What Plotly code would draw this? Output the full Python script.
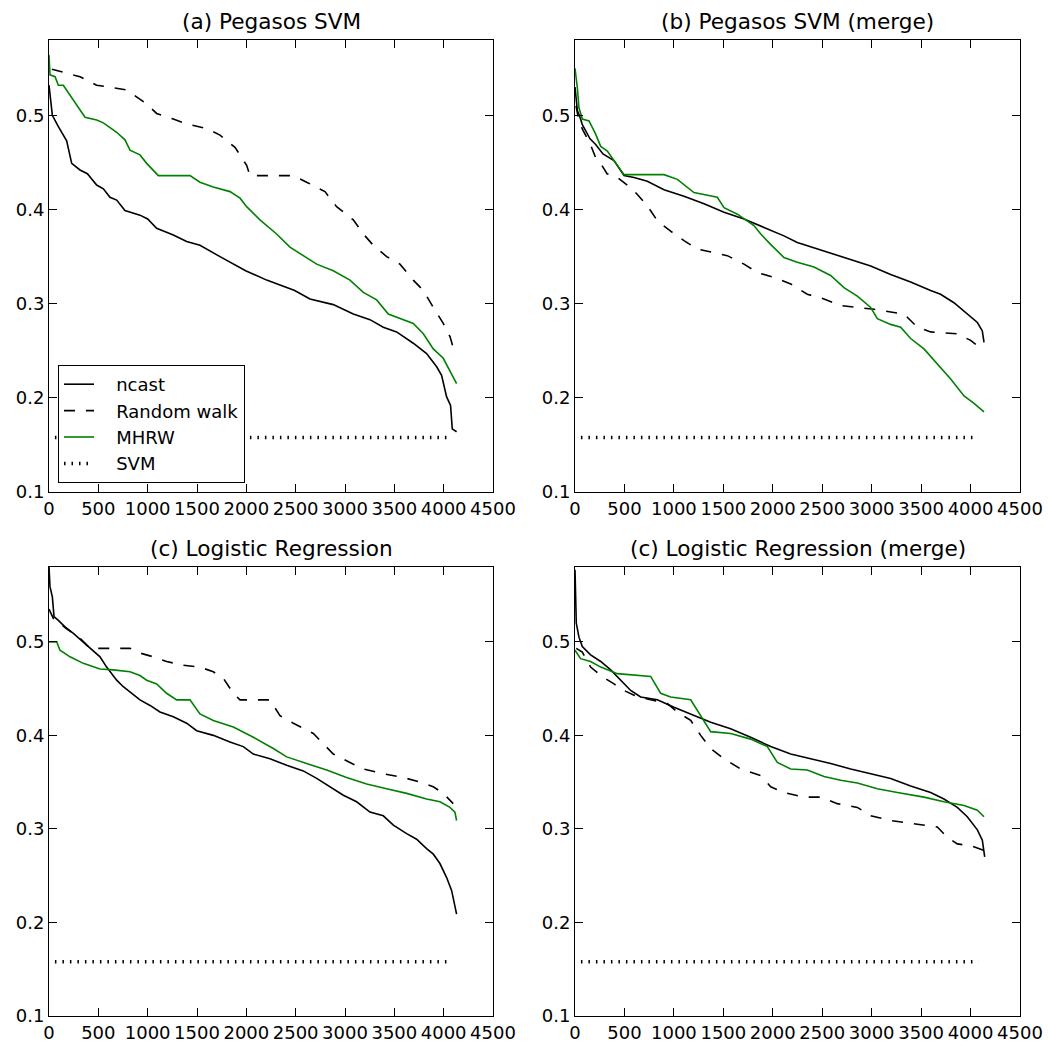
import plotly.graph_objects as go

W = H = 1048

titles = ["(a) Pegasos SVM", "(b) Pegasos SVM (merge)",
          "(c) Logistic Regression", "(c) Logistic Regression (merge)"]
series_names = ["ncast", "Random walk", "MHRW", "SVM"]
x_ticks = [0, 500, 1000, 1500, 2000, 2500, 3000, 3500, 4000, 4500]
y_ticks = [0.1, 0.2, 0.3, 0.4, 0.5]

# ---------------- panel (a) ----------------
a_ncast_x = [0, 8, 34, 95, 179, 230, 314, 389, 483, 551, 618, 686, 770, 922, 1000, 1091, 1260, 1395, 1530, 1733,
             1993, 2206, 2375, 2490, 2645, 2881, 3084, 3253, 3388, 3523, 3692, 3827, 3929, 3979, 4030, 4070, 4087, 4131]
a_ncast_y = [0.532, 0.523, 0.500, 0.488, 0.473, 0.449, 0.442, 0.438, 0.426, 0.422, 0.413, 0.410, 0.399, 0.394, 0.390,
             0.380, 0.373, 0.366, 0.362, 0.350, 0.335, 0.325, 0.318, 0.314, 0.305, 0.299, 0.289, 0.283, 0.275, 0.270,
             0.258, 0.247, 0.233, 0.224, 0.201, 0.192, 0.167, 0.164]
a_rw_x = [30, 314, 483, 787, 990, 1091, 1260, 1395, 1598, 1733, 1885, 2003, 2037, 2476, 2611, 2797, 2915, 3084, 3186,
          3287, 3422, 3557, 3692, 3794, 3895, 3996, 4064, 4114]
a_rw_y = [0.549, 0.541, 0.532, 0.527, 0.512, 0.502, 0.496, 0.491, 0.486, 0.479, 0.466, 0.447, 0.436, 0.436, 0.429,
          0.419, 0.403, 0.389, 0.374, 0.362, 0.350, 0.342, 0.325, 0.314, 0.296, 0.279, 0.265, 0.247]
a_mh_x = [0, 10, 61, 95, 145, 230, 314, 365, 483, 551, 686, 770, 821, 922, 990, 1108, 1429, 1530, 1665, 1834, 1936,
          2003, 2138, 2307, 2442, 2577, 2713, 2881, 3050, 3186, 3321, 3439, 3557, 3692, 3794, 3895, 3996, 4064, 4131]
a_mh_y = [0.564, 0.543, 0.541, 0.532, 0.532, 0.519, 0.505, 0.498, 0.495, 0.492, 0.482, 0.474, 0.463, 0.458, 0.449,
          0.436, 0.436, 0.429, 0.424, 0.419, 0.412, 0.403, 0.389, 0.374, 0.360, 0.351, 0.342, 0.335, 0.325, 0.312,
          0.304, 0.289, 0.284, 0.279, 0.268, 0.252, 0.242, 0.229, 0.215]

# ---------------- panel (b) ----------------
b_ncast_x = [0, 24, 51, 74, 152, 209, 283, 394, 496, 597, 731, 900, 1102, 1305, 1507, 1709, 1911, 2113, 2248, 2518,
             2720, 2990, 3192, 3394, 3596, 3697, 3832, 3967, 4069, 4119, 4136]
b_ncast_y = [0.530, 0.505, 0.498, 0.490, 0.475, 0.469, 0.459, 0.452, 0.436, 0.434, 0.430, 0.421, 0.414, 0.406, 0.397,
             0.390, 0.381, 0.372, 0.365, 0.356, 0.349, 0.340, 0.331, 0.323, 0.314, 0.310, 0.301, 0.289, 0.280, 0.271,
             0.259]
b_rw_x = [10, 40, 81, 152, 209, 253, 324, 428, 563, 631, 731, 833, 967, 1102, 1237, 1372, 1540, 1709, 1844, 2012,
          2181, 2349, 2518, 2687, 3024, 3327, 3462, 3596, 3866, 4001, 4136]
b_rw_y = [0.510, 0.494, 0.484, 0.470, 0.455, 0.450, 0.438, 0.434, 0.423, 0.416, 0.404, 0.388, 0.377, 0.367, 0.358,
          0.355, 0.351, 0.342, 0.333, 0.328, 0.321, 0.310, 0.305, 0.298, 0.294, 0.289, 0.275, 0.270, 0.268, 0.261,
          0.250]
b_mh_x = [0, 24, 40, 74, 142, 209, 260, 327, 394, 496, 900, 1035, 1203, 1439, 1507, 1642, 1810, 1878, 1978, 2113,
          2248, 2417, 2585, 2720, 2855, 2990, 3057, 3192, 3293, 3394, 3529, 3664, 3799, 3934, 4035, 4136]
b_mh_y = [0.550, 0.529, 0.508, 0.496, 0.494, 0.480, 0.467, 0.462, 0.452, 0.437, 0.437, 0.432, 0.418, 0.413, 0.402,
          0.395, 0.383, 0.374, 0.363, 0.349, 0.344, 0.339, 0.330, 0.317, 0.308, 0.296, 0.284, 0.278, 0.275, 0.263,
          0.252, 0.236, 0.220, 0.202, 0.194, 0.185]

# ---------------- panel (c) ----------------
c_ncast_x = [0, 10, 34, 51, 95, 162, 247, 348, 449, 517, 584, 686, 753, 855, 922, 1024, 1125, 1260, 1395, 1497, 1665,
             1834, 1969, 2071, 2240, 2409, 2577, 2713, 2848, 2983, 3118, 3253, 3388, 3490, 3625, 3726, 3827, 3895,
             3962, 4030, 4081, 4131]
c_ncast_y = [0.580, 0.559, 0.548, 0.527, 0.523, 0.516, 0.509, 0.500, 0.491, 0.484, 0.473, 0.459, 0.452, 0.443, 0.438,
             0.432, 0.425, 0.420, 0.413, 0.405, 0.400, 0.393, 0.388, 0.380, 0.375, 0.368, 0.362, 0.354, 0.345, 0.336,
             0.329, 0.318, 0.314, 0.304, 0.295, 0.289, 0.279, 0.273, 0.263, 0.248, 0.234, 0.209]
c_rw_x = [0, 44, 179, 314, 416, 652, 821, 922, 1057, 1192, 1361, 1530, 1665, 1767, 1868, 1936, 2240, 2341, 2476, 2679,
          2780, 2881, 3050, 3186, 3388, 3591, 3760, 3895, 3996, 4097]
c_rw_y = [0.535, 0.525, 0.514, 0.504, 0.493, 0.493, 0.493, 0.488, 0.484, 0.479, 0.475, 0.473, 0.468, 0.461, 0.445,
          0.438, 0.438, 0.421, 0.413, 0.402, 0.391, 0.380, 0.371, 0.364, 0.359, 0.355, 0.350, 0.345, 0.338, 0.327]
c_mh_x = [0, 78, 111, 213, 348, 517, 652, 821, 922, 990, 1091, 1192, 1294, 1429, 1530, 1665, 1868, 2071, 2273, 2409,
          2611, 2814, 3016, 3219, 3422, 3625, 3827, 3962, 4064, 4114, 4131]
c_mh_y = [0.500, 0.500, 0.491, 0.484, 0.477, 0.471, 0.470, 0.468, 0.464, 0.459, 0.455, 0.445, 0.438, 0.438, 0.423,
          0.416, 0.409, 0.398, 0.386, 0.377, 0.370, 0.363, 0.355, 0.348, 0.343, 0.338, 0.332, 0.329, 0.323, 0.318,
          0.309]

# ---------------- panel (d) ----------------
d_ncast_x = [0, 5, 13, 40, 74, 158, 260, 361, 462, 563, 664, 833, 1001, 1170, 1372, 1574, 1776, 1979, 2181, 2383,
             2585, 2788, 2990, 3192, 3394, 3596, 3731, 3866, 3967, 4069, 4119, 4143]
d_ncast_y = [0.577, 0.540, 0.520, 0.505, 0.495, 0.486, 0.479, 0.470, 0.459, 0.448, 0.441, 0.438, 0.430, 0.423, 0.414,
             0.407, 0.398, 0.388, 0.380, 0.375, 0.370, 0.364, 0.359, 0.354, 0.346, 0.339, 0.332, 0.323, 0.313, 0.299,
             0.288, 0.270]
d_rw_x = [13, 74, 158, 260, 394, 496, 597, 765, 934, 1035, 1170, 1271, 1372, 1507, 1675, 1878, 1979, 2113, 2316, 2484,
          2653, 2855, 2990, 3192, 3462, 3664, 3765, 3866, 4001, 4136]
d_rw_y = [0.493, 0.489, 0.473, 0.464, 0.455, 0.448, 0.443, 0.438, 0.434, 0.425, 0.416, 0.400, 0.386, 0.375, 0.364,
          0.357, 0.345, 0.339, 0.334, 0.334, 0.327, 0.323, 0.314, 0.309, 0.305, 0.302, 0.291, 0.284, 0.282, 0.277]
d_mh_x = [0, 57, 158, 260, 428, 630, 765, 866, 967, 1170, 1237, 1321, 1372, 1574, 1776, 1945, 2046, 2181, 2349, 2518,
          2687, 2855, 3057, 3260, 3529, 3731, 3934, 4069, 4136]
d_mh_y = [0.491, 0.482, 0.479, 0.473, 0.466, 0.464, 0.463, 0.445, 0.441, 0.438, 0.427, 0.413, 0.404, 0.402, 0.396,
          0.388, 0.371, 0.364, 0.363, 0.356, 0.352, 0.349, 0.343, 0.339, 0.334, 0.329, 0.325, 0.320, 0.313]

# SVM baseline (same in every panel)
svm_x = [60, 4080]
svm_y = [0.158, 0.158]

panels = [
    (a_ncast_x, a_ncast_y, a_rw_x, a_rw_y, a_mh_x, a_mh_y),
    (b_ncast_x, b_ncast_y, b_rw_x, b_rw_y, b_mh_x, b_mh_y),
    (c_ncast_x, c_ncast_y, c_rw_x, c_rw_y, c_mh_x, c_mh_y),
    (d_ncast_x, d_ncast_y, d_rw_x, d_rw_y, d_mh_x, d_mh_y),
]

# pixel boxes of the four axes: left, right, top, bottom
boxes = [(49, 493, 40, 492), (575, 1020, 40, 492), (49, 493, 567, 1016), (575, 1020, 567, 1016)]
title_y_px = [22, 22, 548, 548]

FONT = "DejaVu Sans"
PAD = "\u00a0\u00a0\u00a0"  # visual gap between legend sample and label
fig = go.Figure()

styles = [
    dict(color="black", width=1.6),
    dict(color="black", width=1.6, dash="11px,11px"),
    dict(color="#008000", width=1.6),
    dict(color="black", width=3.5, dash="1.5px,6px"),
]

for i, (nx, ny, rx, ry, mx, my) in enumerate(panels):
    suf = "" if i == 0 else str(i + 1)
    data = [(nx, ny), (rx, ry), (mx, my), (svm_x, svm_y)]
    for k, (xs, ys) in enumerate(data):
        fig.add_trace(go.Scatter(
            x=xs, y=ys, mode="lines", name=PAD + series_names[k], line=styles[k],
            xaxis="x" + suf, yaxis="y" + suf, showlegend=(i == 0),
            legendgroup="g%d" % k, hoverinfo="skip"))
    l, r, t, b = boxes[i]
    common = dict(showgrid=False, zeroline=False, showline=True, linecolor="black", linewidth=1,
                  mirror="allticks", ticks="inside", ticklen=8, tickwidth=1, tickcolor="black",
                  automargin=False, tickfont=dict(family=FONT, size=18, color="black"))
    fig.layout["xaxis" + suf] = dict(domain=[l / W, r / W], range=[0, 4500], tickvals=x_ticks,
                                     anchor="y" + suf, **common)
    fig.layout["yaxis" + suf] = dict(domain=[1 - b / H, 1 - t / H], range=[0.1, 0.58], tickvals=y_ticks,
                                     ticktext=["%.1f" % v for v in y_ticks], anchor="x" + suf, **common)
    fig.add_annotation(text=titles[i], x=(l + r) / 2 / W, y=1 - title_y_px[i] / H, xref="paper", yref="paper",
                       xanchor="center", yanchor="middle", showarrow=False,
                       font=dict(family=FONT, size=21.6, color="black"))

fig.update_layout(
    width=W, height=H, margin=dict(l=0, r=0, t=0, b=0, autoexpand=False),
    template="none",
    paper_bgcolor="white", plot_bgcolor="white",
    font=dict(family=FONT, size=18, color="black"),
    legend=dict(x=58 / W, y=1 - 365 / H, xanchor="left", yanchor="top", bgcolor="white",
                bordercolor="black", borderwidth=1, traceorder="grouped", tracegroupgap=0,
                entrywidth=166,
                font=dict(family=FONT, size=18, color="black")),
)

fig.write_html("out.html", config={"displayModeBar": False},
               post_script="document.body.style.margin='0px';document.body.style.overflow='hidden';")
